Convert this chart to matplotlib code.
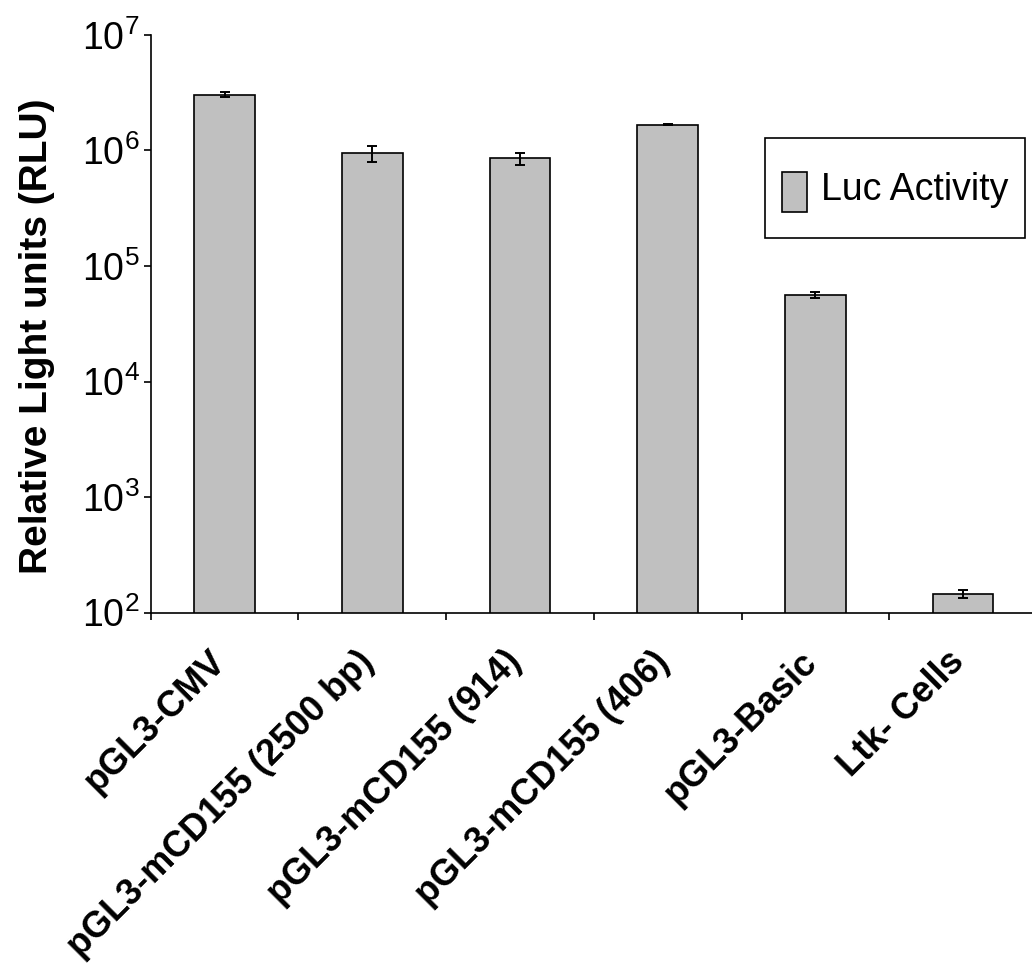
import matplotlib
matplotlib.use("Agg")
import matplotlib.pyplot as plt
import matplotlib.transforms as mtransforms
from matplotlib.patches import Rectangle
from matplotlib.legend_handler import HandlerPatch
import numpy as np

# Data
samples = ["pGL3-CMV", "pGL3-mCD155 (2500 bp)", "pGL3-mCD155 (914)",
           "pGL3-mCD155 (406)", "pGL3-Basic", "Ltk- Cells"]
luc_activity = [3.03e6, 9.4e5, 8.5e5, 1.67e6, 5.6e4, 146]
luc_error = [1.5e5, 1.4e5, 1.0e5, 1.0e4, 3.0e3, 12]
series_name = "Luc Activity"

plt.rcParams['font.family'] = ['Liberation Sans', 'DejaVu Sans']
plt.rcParams['mathtext.default'] = 'regular'

fig = plt.figure(figsize=(10.32, 9.67), dpi=100)
ax = fig.add_axes([0.146, 0.3664, 0.8588, 0.5977])

x = np.arange(len(samples))
ax.bar(x, luc_activity, width=0.41, color="#c0c0c0", edgecolor="black",
       linewidth=1.2, zorder=2)
ax.errorbar(x, luc_activity, yerr=luc_error, fmt="none", ecolor="black",
            elinewidth=1.4, capsize=3.5, capthick=1.4, zorder=3)

ax.set_yscale("log")
ax.set_ylim(1e2, 1e7)
ax.set_xlim(-0.5, 5.5)
ax.yaxis.set_major_locator(matplotlib.ticker.LogLocator(base=10, numticks=10))
ax.yaxis.set_minor_locator(matplotlib.ticker.NullLocator())

# category labels at centers, tick marks at the boundaries
ax.set_xticks(x)
ax.set_xticks(np.arange(-0.5, 6.0, 1.0), minor=True)
ax.tick_params(axis="x", which="major", length=0, pad=0)
ax.tick_params(axis="x", which="minor", length=5, width=1.2, direction="out")
ax.tick_params(axis="y", which="major", length=5, width=1.2, labelsize=27, pad=3)
ax.set_xticklabels(samples, rotation=45, ha="right", va="center",
                   rotation_mode="anchor", fontsize=26, fontweight="bold")
offset = mtransforms.ScaledTranslation(-0.04, -0.44, fig.dpi_scale_trans)
for lab in ax.get_xticklabels():
    lab.set_transform(lab.get_transform() + offset)

for side in ["top", "right"]:
    ax.spines[side].set_visible(False)
ax.spines["left"].set_linewidth(1.2)
ax.spines["bottom"].set_linewidth(1.2)

fig.text(37 / 1032, 1 - 336 / 967, "Relative Light units (RLU)", rotation=90,
         ha="center", va="center", fontsize=28, fontweight="bold")


# legend key: a small tall box centred in a taller row
def small_patch(legend, orig_handle, xdescent, ydescent, width, height, fontsize):
    h = 28.8
    return Rectangle((-xdescent, -ydescent + (height - h) / 2 - 3), width, h)


key = Rectangle((0, 0), 1, 1, facecolor="#c0c0c0", edgecolor="black", linewidth=1.2)
leg = fig.legend(handles=[key], labels=[series_name],
                 loc="upper left", bbox_to_anchor=(765 / 1032, 1 - 138 / 967),
                 fontsize=27, frameon=True, fancybox=False, shadow=False,
                 handlelength=0.67, handleheight=2.35, handletextpad=0.37,
                 borderpad=0.45, borderaxespad=0,
                 handler_map={Rectangle: HandlerPatch(patch_func=small_patch)})
leg.get_frame().set_edgecolor("black")
leg.get_frame().set_linewidth(1.2)
leg.get_frame().set_alpha(None)

fig.savefig("out.png", dpi=100)
